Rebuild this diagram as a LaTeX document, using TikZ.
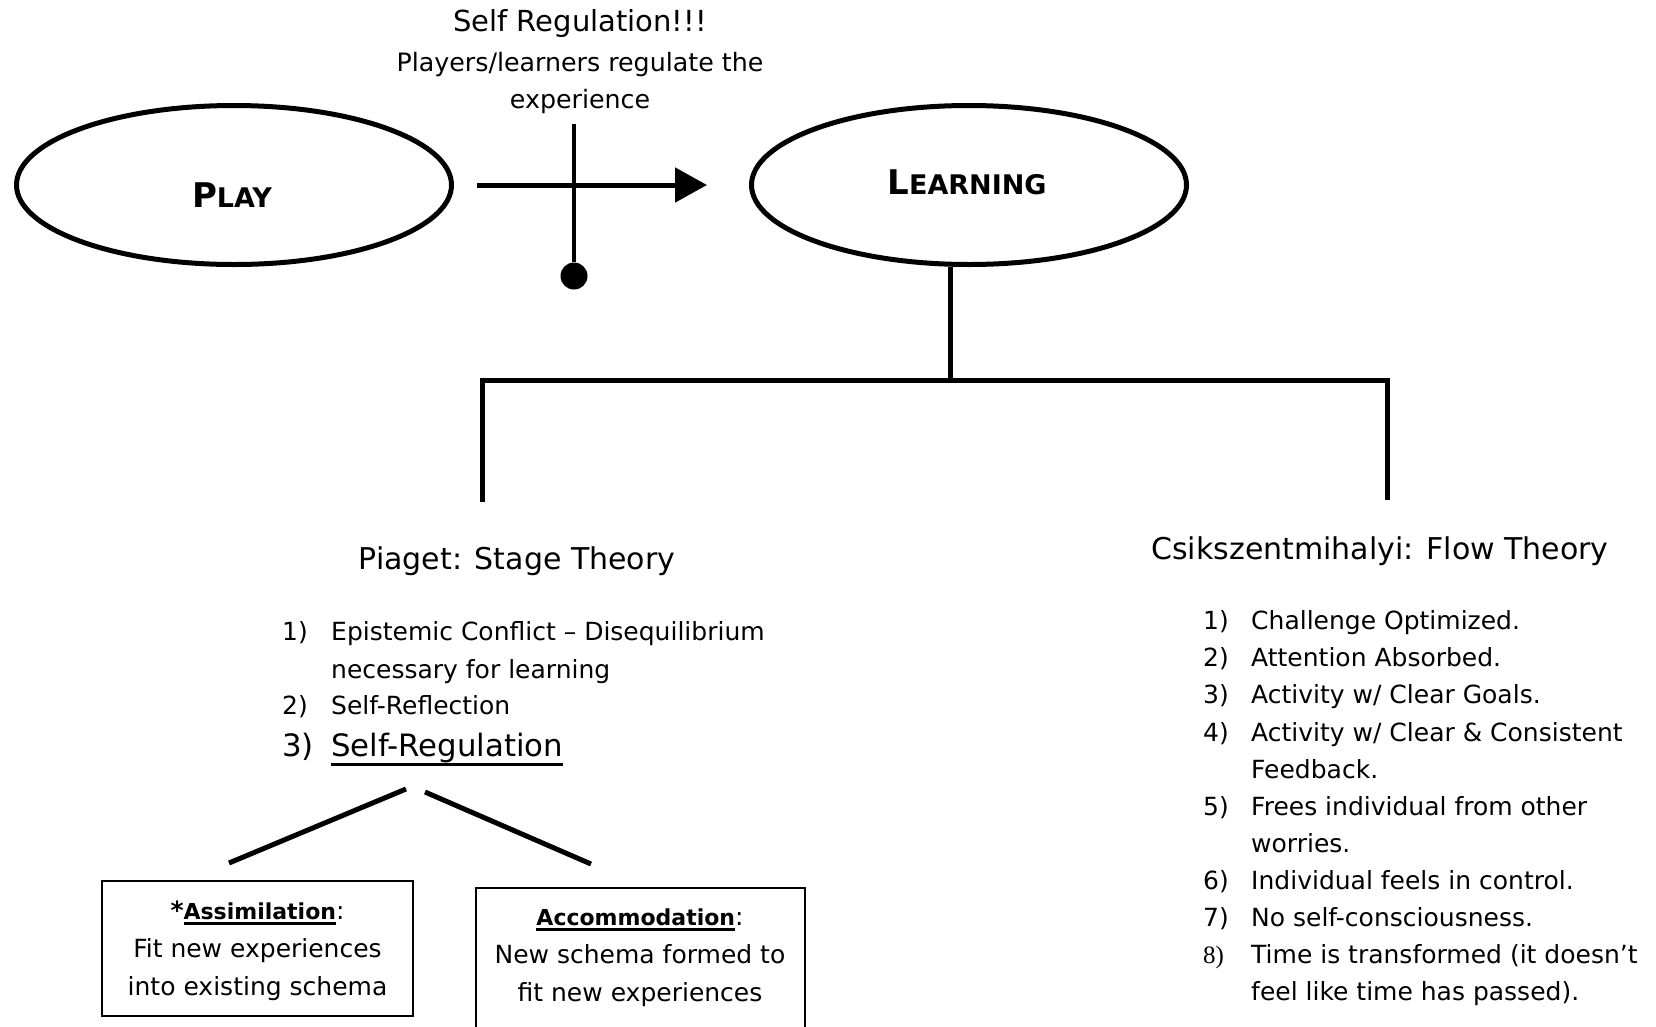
\documentclass[tikz,border=0pt]{standalone}
\usepackage{fontspec}
\setmainfont{DejaVu Sans}
\newfontfamily\numfont{Liberation Serif}
\usetikzlibrary{shapes.geometric,arrows.meta,positioning}

\newcommand{\thickul}[2][-5pt]{\setbox0\hbox{#2}\leavevmode\rlap{\rule[#1]{\wd0}{2.5pt}}\box0}

\begin{document}
\begin{tikzpicture}[x=1pt,y=-1pt]

\tikzset{thick line/.style={line width=5pt},
    oval/.style={draw,ellipse,line width=5pt,minimum width=435pt,minimum height=159pt,inner sep=0pt},
    box/.style={draw,line width=2pt,inner sep=0pt},
    boxtext/.style={align=center,font=\fontsize{25}{38}\selectfont},
    item/.style={anchor=mid west,inner sep=0pt,font=\fontsize{25}{30}\selectfont},
    title/.style={font=\fontsize{30}{36}\selectfont}}

\useasboundingbox (0,0) rectangle (1656,1026);

%% Play -> Learning
\node[oval] (play) at (234,185) {};
\node[font=\bfseries] (playtext) at (232,195) {\fontsize{34}{34}\selectfont P\fontsize{27}{27}\selectfont LAY};
\node[oval] (learn) at (969,185) {};
\node[font=\bfseries] (learntext) at (967,182) {\fontsize{34}{34}\selectfont L\fontsize{27}{27}\selectfont EARNING};
\draw[thick line,-{Triangle[length=32pt,width=34pt]},shorten <=23pt,shorten >=42pt] (play) -- (learn);

%% Self regulation
\node[font=\fontsize{29}{32}\selectfont] (selfreg) at (580,23) {Self Regulation!!!};
\node[align=center,font=\fontsize{25.3}{37}\selectfont] (players) at (580,83) {Players/learners regulate the\\experience};
\coordinate (regtop) at (574,124);
\node[circle,fill,inner sep=0pt,minimum size=27pt] (regdot) at (574,276) {};
\draw[line width=4pt] (regtop) -- (regdot);

%% Tree
\coordinate (stem) at (950,380);
\coordinate (piagetdrop) at (482,502);
\coordinate (flowdrop) at (1387,500);
\draw[thick line] (learn.south -| stem) -- (stem);
\draw[thick line] (piagetdrop) |- (stem) -| (flowdrop);

%% Piaget
\node[title] (piaget) at (517,561) {Piaget: Stage Theory};
\node[item] (pnum1) at (282,638) {1)};
\node[item] (pitem1) at (331,638) {Epistemic Conflict – Disequilibrium};
\node[item] (pitem1b) at (331,676) {necessary for learning};
\node[item] (pnum2) at (282,712) {2)};
\node[item] (pitem2) at (331,712) {Self-Reflection};
\node[item,font=\fontsize{30.8}{34}\selectfont] (pnum3) at (282,754) {3)};
\node[item,font=\fontsize{30.8}{34}\selectfont] (pitem3) at (331,754) {\thickul[-9pt]{Self-Regulation}};

\coordinate (assimtip) at (406,789);
\coordinate (assimend) at (229,863);
\coordinate (acctip) at (425,792);
\coordinate (accend) at (591,864);
\draw[thick line] (assimtip) -- (assimend);
\draw[thick line] (acctip) -- (accend);

\node[box,minimum width=311pt,minimum height=135pt] (assimbox) at (257.5,948.5) {};
\node[boxtext] (assimtext) at (257.5,951) {\textbf{*}\thickul{\fontsize{22}{38}\selectfont\textbf{Assimilation}}:\\Fit new experiences\\into existing schema};
\node[box,minimum width=329pt,minimum height=180pt,anchor=north] (accbox) at (640.5,887) {};
\node[boxtext] (acctext) at (640,958) {\thickul{\fontsize{22}{38}\selectfont\textbf{Accommodation}}:\\New schema formed to\\fit new experiences};

%% Flow
\node[title] (flow) at (1380,551) {Csikszentmihalyi: Flow Theory};
\foreach \n/\t [count=\i from 0] in {
    1)/Challenge Optimized.,
    2)/Attention Absorbed.,
    3)/{Activity w/ Clear Goals.},
    4)/{Activity w/ Clear \& Consistent},
    /Feedback.,
    5)/Frees individual from other,
    /worries.,
    6)/Individual feels in control.,
    7)/No self-consciousness.,
    {\numfont 8)}/Time is transformed (it doesn’t,
    /feel like time has passed).}
{
    \node[item] (fnum\i) at (1203,{627+37.1*\i}) {\n};
    \node[item] (fitem\i) at (1251,{627+37.1*\i}) {\t};
}

\end{tikzpicture}
\end{document}
